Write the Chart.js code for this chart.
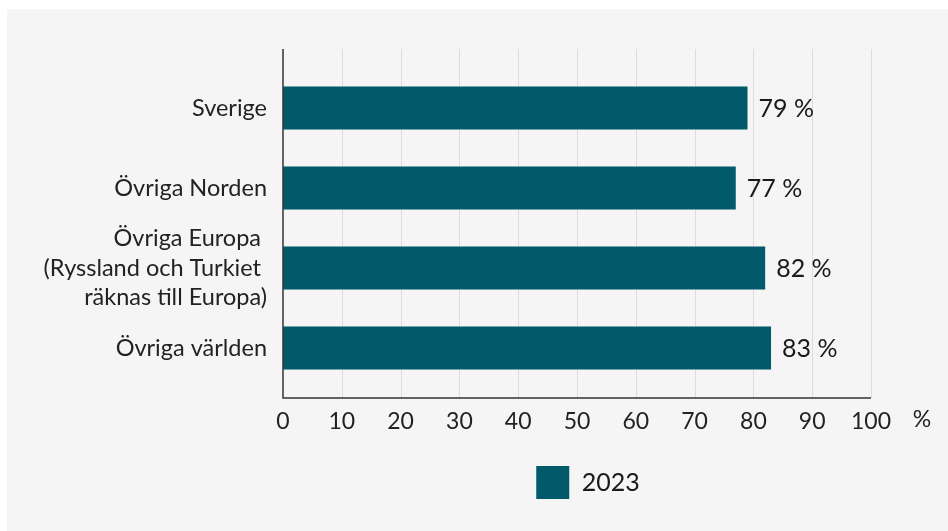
<!DOCTYPE html>
<html>
<head>
<meta charset="utf-8">
<script src="https://cdn.jsdelivr.net/npm/chart.js@4"></script>
<style>
	html, body { margin:0; padding:0; background:#fff; }
	#wrap { position:relative; width:948px; height:531px; }
</style>
</head>
<body>
<div id="wrap"><canvas id="c" width="948" height="531"></canvas></div>
<script>
// data ====================================================================================
const categories = ['Sverige', 'Övriga Norden', ['Övriga Europa ', '(Ryssland och Turkiet ', 'räknas till Europa)'], 'Övriga världen']
const values2023 = [79, 77, 82, 83]
const seriesLabel = '2023'
const xTicks = [0, 10, 20, 30, 40, 50, 60, 70, 80, 90, 100]
const unitLabel = '%'

const teal = '#015a69'
const ink = '#1a1a1a'
const fam = 'Lato, "Noto Sans", sans-serif'
const narrow = '"Liberation Sans Narrow", Lato, sans-serif'

// background, grid and axis lines, value labels
const deco = {
	id: 'deco',
	afterLayout: ch => {
		// legend sits a bit right of the plot centre
		ch.legend.left += 11
		ch.legend.right += 11
	},
	beforeDraw: ch => {
		const c = ch.ctx
		c.save()
		c.fillStyle = '#f5f5f5'
		c.fillRect(7, 9, ch.width - 7, ch.height - 9)
		const x = ch.scales.x
		c.strokeStyle = '#dcdcdc'
		c.lineWidth = 1
		xTicks.slice(1).forEach(v => {
			const px = Math.round(x.getPixelForValue(v)) + 0.5
			c.beginPath(); c.moveTo(px, 49); c.lineTo(px, 398); c.stroke()
		})
		c.restore()
	},
	afterDatasetsDraw: ch => {
		const c = ch.ctx
		const x = ch.scales.x
		c.save()
		c.strokeStyle = '#333'
		c.lineWidth = 1.5
		const x0 = x.getPixelForValue(0), x1 = x.getPixelForValue(100)
		c.beginPath(); c.moveTo(x0, 49); c.lineTo(x0, 398); c.lineTo(x1, 398); c.stroke()

		c.fillStyle = ink
		c.font = '25px ' + fam
		c.textBaseline = 'middle'
		c.textAlign = 'left'
		ch.getDatasetMeta(0).data.forEach((b, i) => {
			c.fillText(values2023[i] + ' %', b.x + 11, b.y + 1)
		})
		c.font = '23px ' + narrow
		c.textAlign = 'center'
		c.fillStyle = '#222'
		c.fillText(unitLabel, x1 + 51, 420)
		c.restore()
	}
}

new Chart(document.getElementById('c'), {
	type: 'bar',
	data: {
		labels: categories,
		datasets: [{
			label: seriesLabel,
			data: values2023,
			backgroundColor: teal,
			borderWidth: 0,
			categoryPercentage: 1,
			barPercentage: 0.54,
		}]
	},
	options: {
		indexAxis: 'y',
		responsive: false,
		animation: false,
		layout: { padding: { top: 68, right: 77, bottom: 22, left: 0 } },
		plugins: {
			tooltip: { enabled: false },
			legend: {
				position: 'bottom',
				fullSize: false,
				labels: {
					boxWidth: 33,
					boxHeight: 33,
					padding: 10,
					color: ink,
					font: { size: 25, family: fam }
				}
			}
		},
		scales: {
			x: {
				min: 0,
				max: 100,
				grid: { display: false, drawTicks: false },
				border: { display: false },
				afterBuildTicks: s => { s.ticks = xTicks.map(v => ({ value: v })) },
				afterFit: s => { s.height = 68 },
				ticks: {
					padding: 20,
					color: '#222',
					maxRotation: 0,
					font: { size: 23, family: narrow }
				}
			},
			y: {
				grid: { display: false, drawTicks: false },
				border: { display: false },
				afterFit: s => { s.width = 283 },
				ticks: {
					autoSkip: false,
					padding: 16,
					color: '#222',
					font: { size: 23.5, family: fam, lineHeight: 1.24 }
				}
			}
		}
	},
	plugins: [deco]
})
</script>
</body>
</html>
